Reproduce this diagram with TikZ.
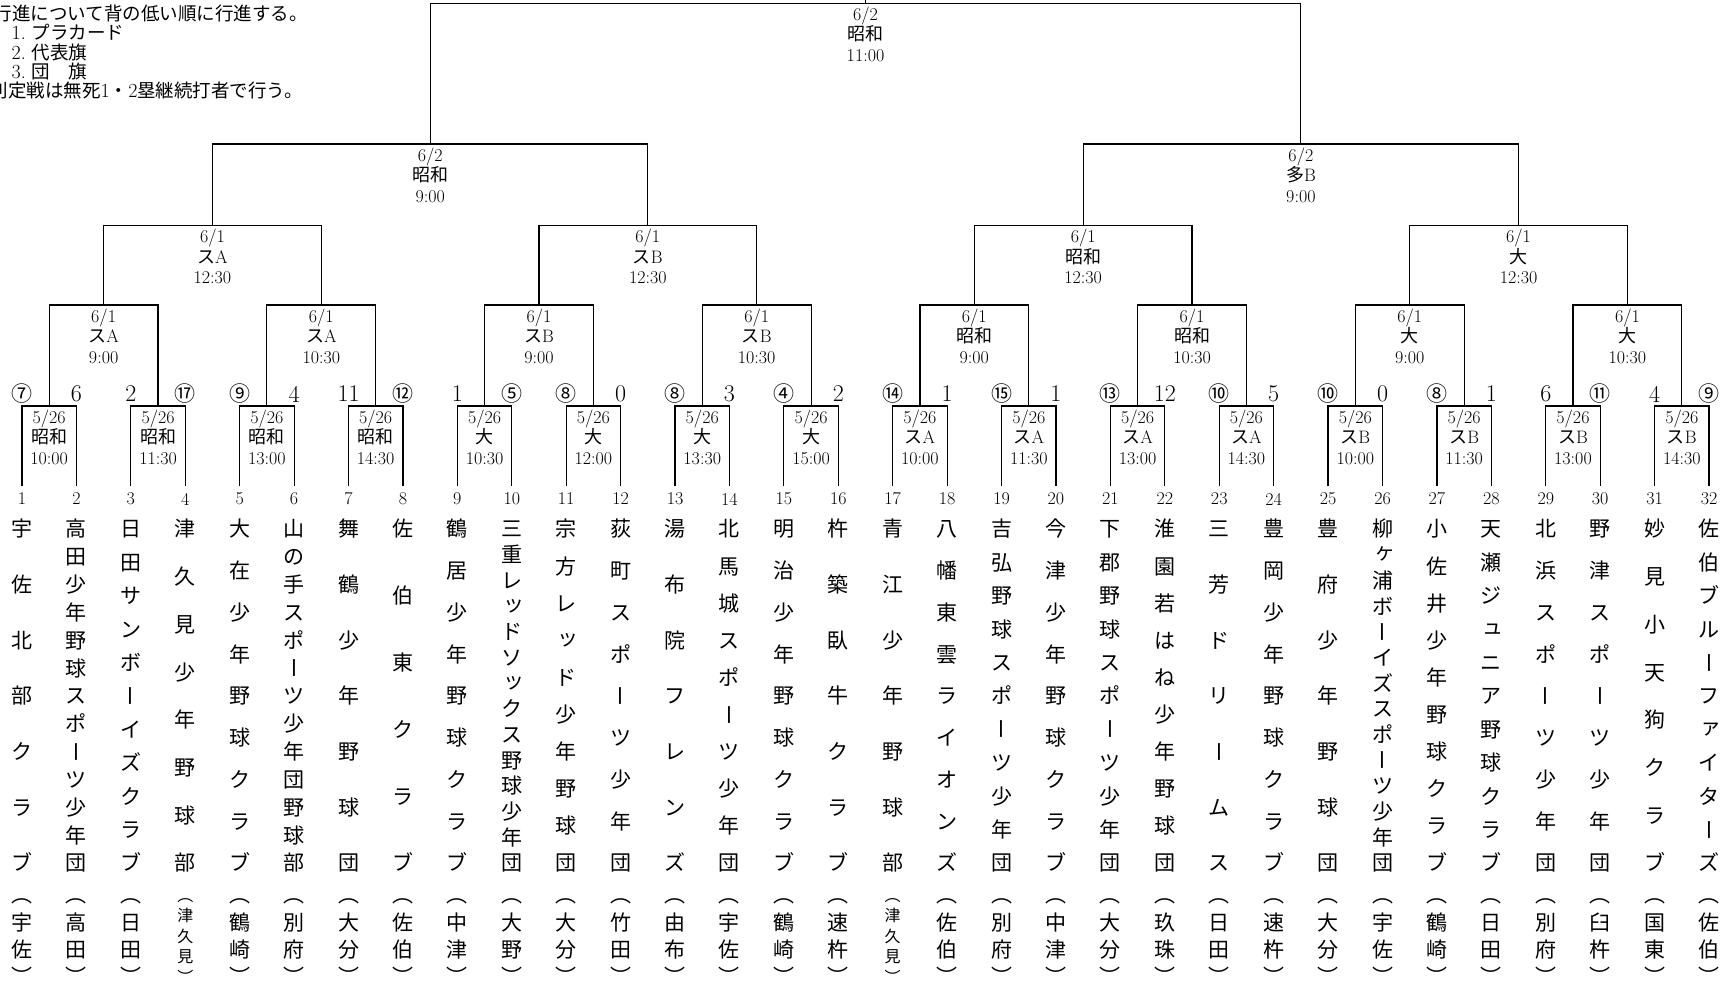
\documentclass[tikz,border=0pt]{standalone}
\usepackage{fontspec}
\usepackage{graphicx}
\newfontfamily\jpfont{Noto Sans CJK JP}
\newcommand\ja[1]{{\jpfont #1}}
\newcommand\cnum[1]{{\jpfont\fontsize{21}{21}\selectfont #1}}
\newcommand\cjkstrut{\vrule width 0pt height 0.88em depth 0.12em\relax}
\newcommand\smallkana[1]{\raisebox{0.13em}{\kern0.2em #1}}

\ExplSyntaxOn
\seq_new:N \l__vc_seq
\tl_new:N \l__vc_tl
\cs_new_protected:Npn \__vc_char:n #1
  {
    \hbox_to_wd:nn { 1em }
      {
        \hss
        \str_case:nnF { #1 }
          {
            { ー } { \rotatebox[origin=c]{90}{ \cjkstrut ー } }
            { ッ } { \smallkana { ッ } }
            { ュ } { \smallkana { ュ } }
            { ァ } { \smallkana { ァ } }
            { ヶ } { \smallkana { ヶ } }
          }
          { #1 }
        \hss
        \cjkstrut
      }
  }
\NewDocumentCommand \vcol { m m }
  {
    \tl_set:Nx \l__vc_tl { #2 }
    \seq_clear:N \l__vc_seq
    \tl_map_inline:Nn \l__vc_tl
      { \seq_put_right:Nn \l__vc_seq { \__vc_char:n { ##1 } } }
    \vbox_to_ht:nn { \dim_eval:n { #1 + 0.88em } }
      {
        \offinterlineskip
        \seq_use:Nn \l__vc_seq { \vfill }
      }
  }
\NewDocumentCommand \vloc { m }
  {
    \tl_set:Nx \l__vc_tl { #1 }
    \int_compare:nNnT { \tl_count:N \l__vc_tl } > { 2 }
      { \fontsize{16}{16}\selectfont }
    \vcol { 82pt } { ︵ #1 ︶ }
  }
\ExplSyntaxOff

\tikzset{
  num/.style={inner xsep=0pt, inner ysep=6pt, font=\fontsize{18}{18}\selectfont},
  score/.style={inner sep=0pt, font=\fontsize{24}{24}\selectfont},
  match/.style={inner sep=0pt, yshift=-31pt, align=center,
    font=\fontsize{18}{20.5}\selectfont},
  team/.style={inner sep=0pt, font=\jpfont\fontsize{21}{21}\selectfont},
  loc/.style={inner sep=0pt, font=\jpfont\fontsize{21}{21}\selectfont},
  note/.style={inner sep=0pt, anchor=west, font=\fontsize{18.5}{18.5}\selectfont}
}

\begin{document}
\begin{tikzpicture}[x=1pt, y=-1pt, line width=1.2pt]
  \useasboundingbox (0,0) rectangle (1726,985);

  % notes
  \node[note] (note1) at (-7,13) {\ja{行進について背の低い順に行進する。}};
  \node[note] (note2) at (11,32.5) {\fontsize{20}{20}\selectfont 1.\ \ja{\fontsize{18.5}{18.5}\selectfont プラカード}};
  \node[note] (note3) at (11,52) {\fontsize{20}{20}\selectfont 2.\ \ja{\fontsize{18.5}{18.5}\selectfont 代表旗}};
  \node[note] (note4) at (11,71.5) {\fontsize{20}{20}\selectfont 3.\ \ja{\fontsize{18.5}{18.5}\selectfont 団　旗}};
  \node[note] (note5) at (-11,91) {\ja{判定戦は無死}{\fontsize{20}{20}\selectfont 1}\ja{・}{\fontsize{20}{20}\selectfont 2}\ja{塁継続打者で行う。}};

  % teams
  \foreach \i in {1,...,32}
    \node[num] (n\i) at ({22+(\i-1)*54.42},499) {\i};
  \foreach \nm/\lc [count=\i] in {宇佐北部クラブ/宇佐, 高田少年野球スポーツ少年団/高田,
      日田サンボーイズクラブ/日田, 津久見少年野球部/津久見, 大在少年野球クラブ/鶴崎,
      山の手スポーツ少年団野球部/別府, 舞鶴少年野球団/大分, 佐伯東クラブ/佐伯,
      鶴居少年野球クラブ/中津, 三重レッドソックス野球少年団/大野, 宗方レッド少年野球団/大分,
      荻町スポーツ少年団/竹田, 湯布院フレンズ/由布, 北馬城スポーツ少年団/宇佐,
      明治少年野球クラブ/鶴崎, 杵築臥牛クラブ/速杵, 青江少年野球部/津久見,
      八幡東雲ライオンズ/佐伯, 吉弘野球スポーツ少年団/別府, 今津少年野球クラブ/中津,
      下郡野球スポーツ少年団/大分, 淮園若はね少年野球団/玖珠, 三芳ドリームス/日田,
      豊岡少年野球クラブ/速杵, 豊府少年野球団/大分, 柳ヶ浦ボーイズスポーツ少年団/宇佐,
      小佐井少年野球クラブ/鶴崎, 天瀬ジュニア野球クラブ/日田, 北浜スポーツ少年団/別府,
      野津スポーツ少年団/臼杵, 妙見小天狗クラブ/国東, 佐伯ブルーファイターズ/佐伯} {
    \node[team] (t\i) at ({22+(\i-1)*54.42},696) {\vcol{334pt}{\nm}};
    \node[loc] (l\i) at ({22+(\i-1)*54.42},936) {\vloc{\lc}};
  }

  % scores
  \foreach \s [count=\i] in {\cnum{⑦},6,2,\cnum{⑰},\cnum{⑨},4,11,\cnum{⑫},
      1,\cnum{⑤},\cnum{⑧},0,\cnum{⑧},3,\cnum{④},2,
      \cnum{⑭},1,\cnum{⑮},1,\cnum{⑬},12,\cnum{⑩},5,
      \cnum{⑩},0,\cnum{⑧},1,6,\cnum{⑪},4,\cnum{⑨}}
    \node[score] (r\i) at ({22+(\i-1)*54.42},394) {\s};

  % bracket points
  \foreach \k in {1,...,16} \coordinate (p\k) at ({22+(2*\k-1.5)*54.42},406);
  \foreach \k in {1,...,8} \coordinate (q\k) at ({22+(4*\k-2.5)*54.42},305);
  \foreach \k in {1,...,4} \coordinate (s\k) at ({22+(8*\k-4.5)*54.42},225.6);
  \foreach \k in {1,2} \coordinate (h\k) at ({22+(16*\k-8.5)*54.42},144);
  \coordinate (f) at ({22+15.5*54.42},3.3);
  \coordinate (top) at ({22+15.5*54.42},-2);

  % bracket lines
  \foreach \k in {1,...,16} {
    \pgfmathtruncatemacro\a{2*\k-1}
    \pgfmathtruncatemacro\b{2*\k}
    \draw (n\a.north) |- (p\k) -| (n\b.north);
  }
  \foreach \k in {1,...,8} {
    \pgfmathtruncatemacro\a{2*\k-1}
    \pgfmathtruncatemacro\b{2*\k}
    \draw (p\a) |- (q\k) -| (p\b);
  }
  \foreach \k in {1,...,4} {
    \pgfmathtruncatemacro\a{2*\k-1}
    \pgfmathtruncatemacro\b{2*\k}
    \draw (q\a) |- (s\k) -| (q\b);
  }
  \draw (s1) |- (h1) -| (s2);
  \draw (s3) |- (h2) -| (s4);
  \draw (h1) |- (f) -| (h2);
  \draw (f) -- (top);

  % games
  \foreach \v/\t [count=\k] in {\ja{昭和}/10:00, \ja{昭和}/11:30, \ja{昭和}/13:00, \ja{昭和}/14:30,
      \ja{大}/10:30, \ja{大}/12:00, \ja{大}/13:30, \ja{大}/15:00,
      \ja{ス}A/10:00, \ja{ス}A/11:30, \ja{ス}A/13:00, \ja{ス}A/14:30,
      \ja{ス}B/10:00, \ja{ス}B/11:30, \ja{ス}B/13:00, \ja{ス}B/14:30}
    \node[match] (m\k) at (p\k) {5/26\\\v\\\t};
  \foreach \v/\t [count=\k] in {\ja{ス}A/9:00, \ja{ス}A/10:30, \ja{ス}B/9:00, \ja{ス}B/10:30,
      \ja{昭和}/9:00, \ja{昭和}/10:30, \ja{大}/9:00, \ja{大}/10:30}
    \node[match] (g\k) at (q\k) {6/1\\\v\\\t};
  \foreach \v [count=\k] in {\ja{ス}A, \ja{ス}B, \ja{昭和}, \ja{大}}
    \node[match] (e\k) at (s\k) {6/1\\\v\\12:30};
  \node[match] (sf1) at (h1) {6/2\\\ja{昭和}\\9:00};
  \node[match] (sf2) at (h2) {6/2\\\ja{多}B\\9:00};
  \node[match] (fin) at (f) {6/2\\\ja{昭和}\\11:00};
\end{tikzpicture}
\end{document}
